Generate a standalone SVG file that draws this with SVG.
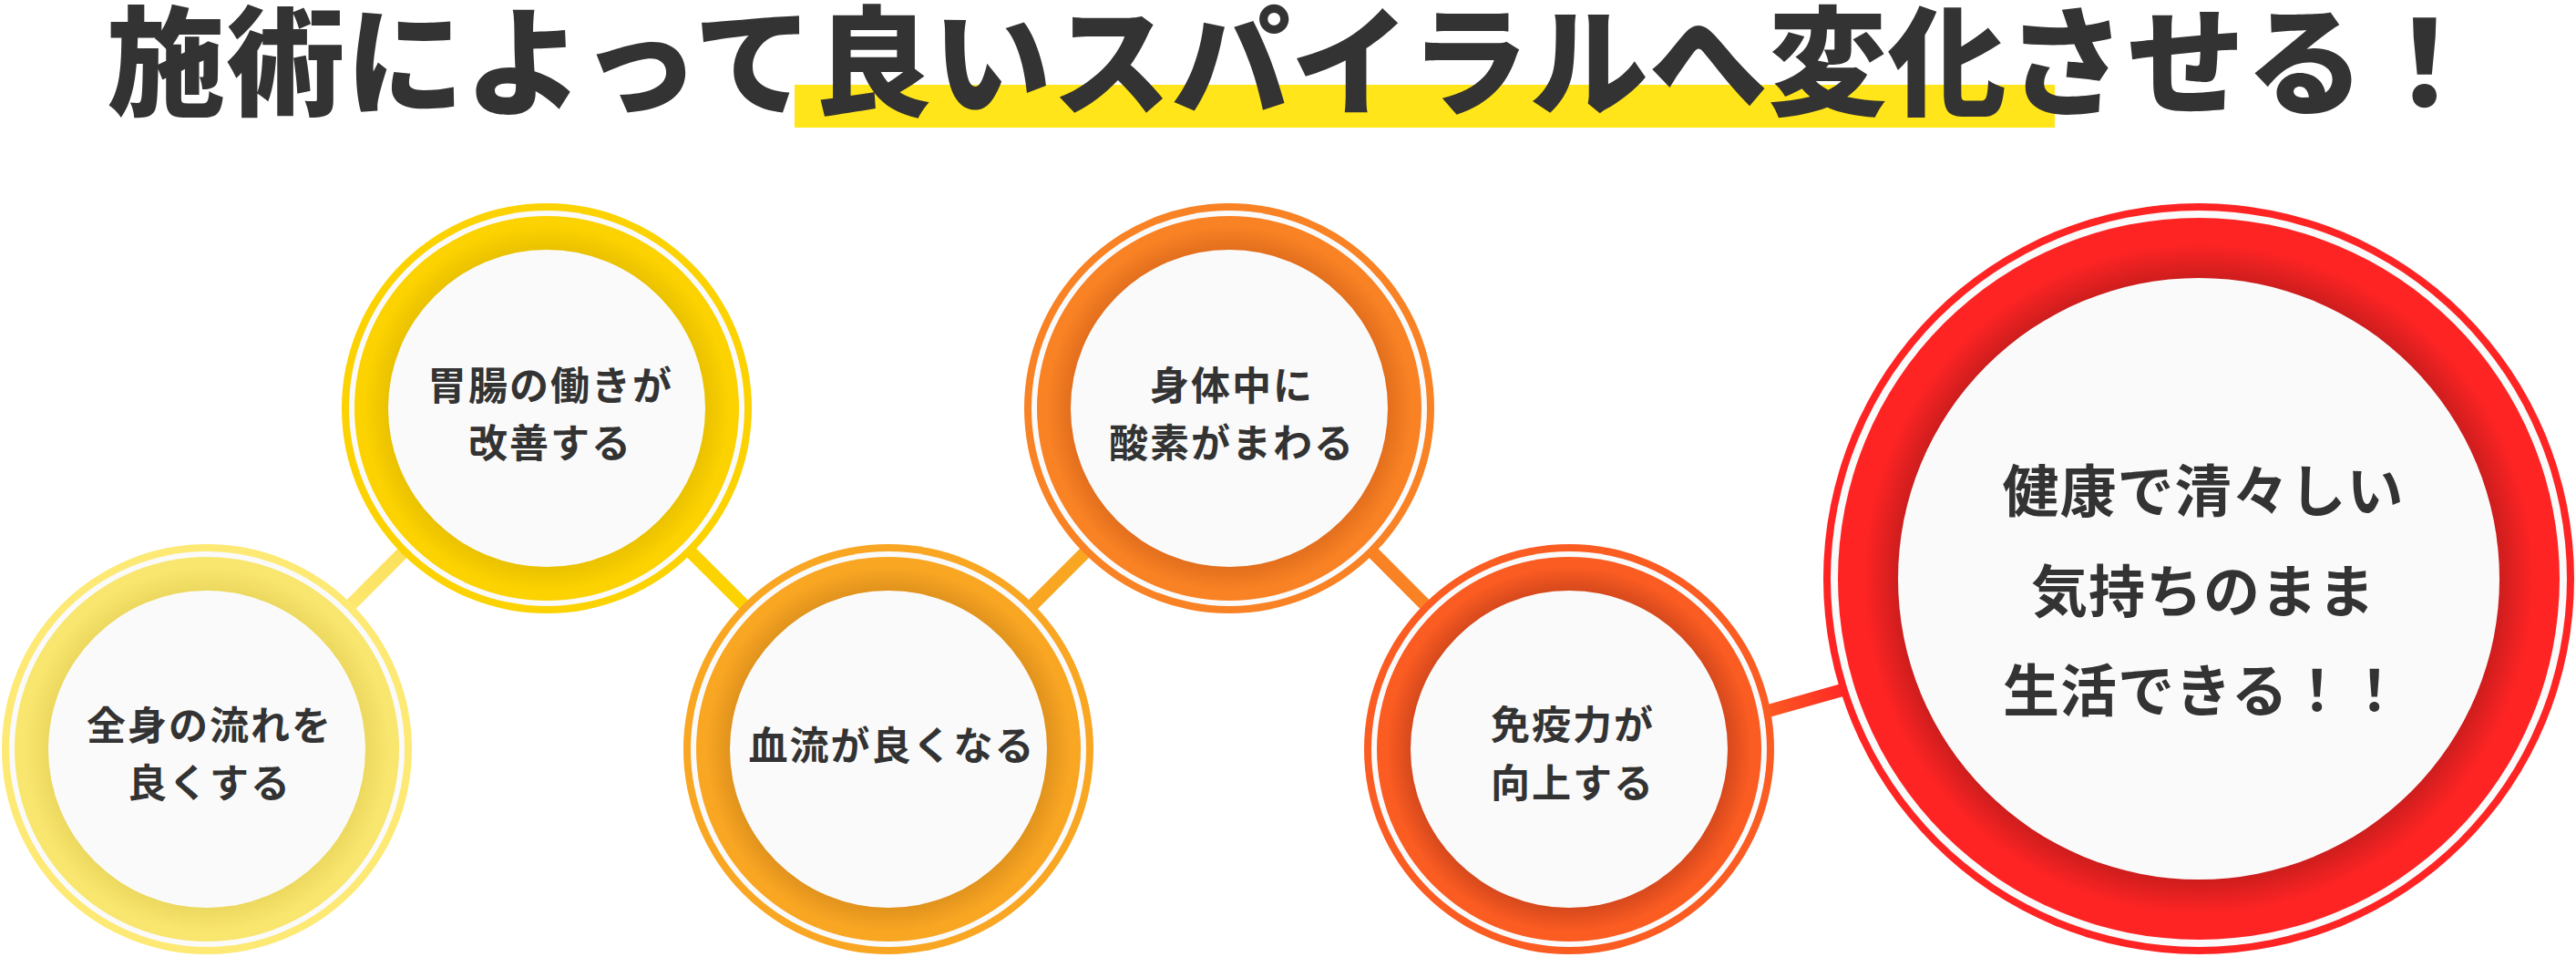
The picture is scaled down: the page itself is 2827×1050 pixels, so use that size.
<svg xmlns="http://www.w3.org/2000/svg" width="2827" height="1050" viewBox="0 0 2827 1050">
<style>
.t{font-family:"Noto Sans CJK JP","Noto Sans CJK SC",sans-serif;font-weight:700;fill:#333333;text-anchor:middle}
.n{font-size:43px;letter-spacing:2px}
.b{font-size:62px;letter-spacing:1px}
.title{font-size:130px;font-weight:900;letter-spacing:1px}
.w{fill:#fafafa}
.con{fill:none;stroke-width:14;stroke-linecap:butt}
</style>
<defs>
<radialGradient id="r1" cx="50%" cy="50%" r="50%"><stop offset="0.82" stop-color="#ecd85e"/><stop offset="0.95" stop-color="#f9e66f"/></radialGradient>
<radialGradient id="r2" cx="50%" cy="50%" r="50%"><stop offset="0.82" stop-color="#e9c100"/><stop offset="0.95" stop-color="#fcd200"/></radialGradient>
<radialGradient id="r3" cx="50%" cy="50%" r="50%"><stop offset="0.82" stop-color="#e0921c"/><stop offset="0.95" stop-color="#f9a623"/></radialGradient>
<radialGradient id="r4" cx="50%" cy="50%" r="50%"><stop offset="0.82" stop-color="#e26e1d"/><stop offset="0.95" stop-color="#f98224"/></radialGradient>
<radialGradient id="r5" cx="50%" cy="50%" r="50%"><stop offset="0.82" stop-color="#d5481c"/><stop offset="0.95" stop-color="#fb5c22"/></radialGradient>
<radialGradient id="r6" cx="50%" cy="50%" r="50%"><stop offset="0.83" stop-color="#cc1d1d"/><stop offset="0.93" stop-color="#ff2424"/></radialGradient>
<linearGradient id="l12" gradientUnits="userSpaceOnUse" x1="370" y1="680" x2="460" y2="590"><stop offset="0" stop-color="#fde974"/><stop offset="1" stop-color="#fbde55"/></linearGradient>
<linearGradient id="l56" gradientUnits="userSpaceOnUse" x1="1940" y1="780" x2="2020" y2="757"><stop offset="0" stop-color="#fb5a22"/><stop offset="1" stop-color="#ff2a25"/></linearGradient>
</defs>

<g id="title">
<rect x="872" y="93" width="1383" height="47" fill="#ffe51a"/>
<text class="t title" x="1422" y="116">施術によって良いスパイラルへ変化させる！</text>
</g>

<g id="connectors">
<line class="con" x1="227" y1="822" x2="600" y2="448" stroke="url(#l12)"/>
<line class="con" x1="600" y1="448" x2="975" y2="822" stroke="#fcd200"/>
<line class="con" x1="975" y1="822" x2="1349" y2="448" stroke="#f9a623"/>
<line class="con" x1="1349" y1="448" x2="1722" y2="822" stroke="#f98224"/>
<line class="con" x1="1760" y1="831" x2="2100" y2="735" stroke="url(#l56)" stroke-width="15"/>
</g>

<g id="node1">
<circle cx="227" cy="822" r="225" fill="#fde974"/>
<circle cx="227" cy="822" r="217" class="w"/>
<circle cx="227" cy="822" r="211" fill="url(#r1)"/>
<circle cx="227" cy="822" r="174" class="w"/>
<text class="t n" x="230" y="812">全身の流れを</text>
<text class="t n" x="230" y="875">良くする</text>
</g>

<g id="node2">
<circle cx="600" cy="448" r="225" fill="#fcd200"/>
<circle cx="600" cy="448" r="217" class="w"/>
<circle cx="600" cy="448" r="211" fill="url(#r2)"/>
<circle cx="600" cy="448" r="174" class="w"/>
<text class="t n" x="604" y="439">胃腸の働きが</text>
<text class="t n" x="604" y="502">改善する</text>
</g>

<g id="node3">
<circle cx="975" cy="822" r="225" fill="#f9a623"/>
<circle cx="975" cy="822" r="217" class="w"/>
<circle cx="975" cy="822" r="211" fill="url(#r3)"/>
<circle cx="975" cy="822" r="174" class="w"/>
<text class="t n" x="979" y="834">血流が良くなる</text>
</g>

<g id="node4">
<circle cx="1349" cy="448" r="225" fill="#f98224"/>
<circle cx="1349" cy="448" r="217" class="w"/>
<circle cx="1349" cy="448" r="211" fill="url(#r4)"/>
<circle cx="1349" cy="448" r="174" class="w"/>
<text class="t n" x="1352" y="439">身体中に</text>
<text class="t n" x="1352" y="502">酸素がまわる</text>
</g>

<g id="node5">
<circle cx="1722" cy="822" r="225" fill="#fb5c22"/>
<circle cx="1722" cy="822" r="217" class="w"/>
<circle cx="1722" cy="822" r="211" fill="url(#r5)"/>
<circle cx="1722" cy="822" r="174" class="w"/>
<text class="t n" x="1726" y="811">免疫力が</text>
<text class="t n" x="1726" y="875">向上する</text>
</g>

<g id="node6">
<circle cx="2413" cy="635" r="412" fill="#ff2424"/>
<circle cx="2413" cy="635" r="404" class="w"/>
<circle cx="2413" cy="635" r="396" fill="url(#r6)"/>
<circle cx="2413" cy="635" r="330" class="w"/>
<text class="t b" x="2418" y="562">健康で清々しい</text>
<text class="t b" x="2418" y="672">気持ちのまま</text>
<text class="t b" x="2418" y="781">生活できる！！</text>
</g>
</svg>
